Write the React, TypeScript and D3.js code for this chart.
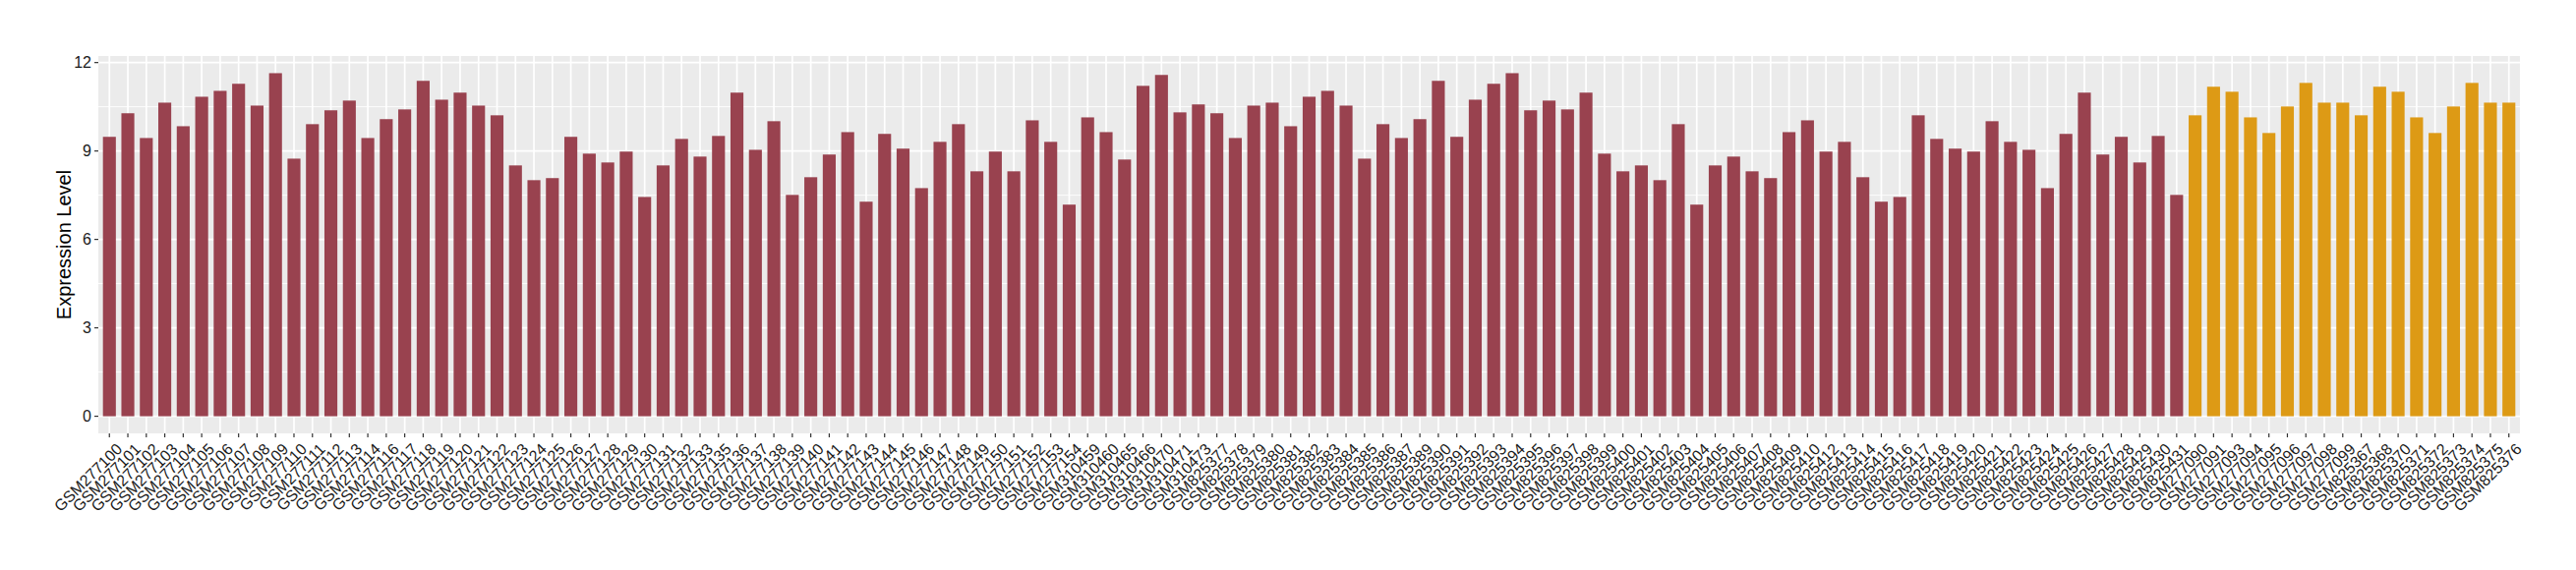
import * as d3 from "d3";

// sample ids, in plot order
const groupA = [
  "GSM277100", "GSM277101", "GSM277102", "GSM277103", "GSM277104", "GSM277105", "GSM277106", "GSM277107",
  "GSM277108", "GSM277109", "GSM277110", "GSM277111", "GSM277112", "GSM277113", "GSM277114", "GSM277116",
  "GSM277117", "GSM277118", "GSM277119", "GSM277120", "GSM277121", "GSM277122", "GSM277123", "GSM277124",
  "GSM277125", "GSM277126", "GSM277127", "GSM277128", "GSM277129", "GSM277130", "GSM277131", "GSM277132",
  "GSM277133", "GSM277135", "GSM277136", "GSM277137", "GSM277138", "GSM277139", "GSM277140", "GSM277141",
  "GSM277142", "GSM277143", "GSM277144", "GSM277145", "GSM277146", "GSM277147", "GSM277148", "GSM277149",
  "GSM277150", "GSM277151", "GSM277152", "GSM277153", "GSM277154", "GSM310459", "GSM310460", "GSM310465",
  "GSM310466", "GSM310470", "GSM310471", "GSM310473", "GSM825377", "GSM825378", "GSM825379", "GSM825380",
  "GSM825381", "GSM825382", "GSM825383", "GSM825384", "GSM825385", "GSM825386", "GSM825387", "GSM825389",
  "GSM825390", "GSM825391", "GSM825392", "GSM825393", "GSM825394", "GSM825395", "GSM825396", "GSM825397",
  "GSM825398", "GSM825399", "GSM825400", "GSM825401", "GSM825402", "GSM825403", "GSM825404", "GSM825405",
  "GSM825406", "GSM825407", "GSM825408", "GSM825409", "GSM825410", "GSM825412", "GSM825413", "GSM825414",
  "GSM825415", "GSM825416", "GSM825417", "GSM825418", "GSM825419", "GSM825420", "GSM825421", "GSM825422",
  "GSM825423", "GSM825424", "GSM825425", "GSM825426", "GSM825427", "GSM825428", "GSM825429", "GSM825430",
  "GSM825431",
];
const valuesA = [
  9.48, 10.28, 9.44, 10.64, 9.84, 10.84, 11.04, 11.28, 10.54, 11.64, 8.74, 9.91, 10.38, 10.71, 9.44, 10.08,
  10.41, 11.38, 10.74, 10.98, 10.54, 10.21, 8.51, 8.01, 8.08, 9.48, 8.91, 8.61, 8.98, 7.44, 8.51, 9.41,
  8.81, 9.51, 10.98, 9.04, 10.01, 7.51, 8.11, 8.88, 9.64, 7.28, 9.58, 9.08, 7.74, 9.31, 9.91, 8.31,
  8.98, 8.31, 10.04, 9.31, 7.18, 10.14, 9.64, 8.71, 11.21, 11.58, 10.31, 10.58, 10.28, 9.44, 10.54, 10.64,
  9.84, 10.84, 11.04, 10.54, 8.74, 9.91, 9.44, 10.08, 11.38, 9.48, 10.74, 11.28, 11.64, 10.38, 10.71, 10.41,
  10.98, 8.91, 8.31, 8.51, 8.01, 9.91, 7.18, 8.51, 8.81, 8.31, 8.08, 9.64, 10.04, 8.98, 9.31, 8.11,
  7.28, 7.44, 10.21, 9.41, 9.08, 8.98, 10.01, 9.31, 9.04, 7.74, 9.58, 10.98, 8.88, 9.48, 8.61, 9.51,
  7.51,
];
const groupB = [
  "GSM277090", "GSM277091", "GSM277093", "GSM277094", "GSM277095", "GSM277096", "GSM277097", "GSM277098",
  "GSM277099", "GSM825367", "GSM825368", "GSM825370", "GSM825371", "GSM825372", "GSM825373", "GSM825374",
  "GSM825375", "GSM825376",
];
const valuesB = [
  10.21, 11.18, 11.01, 10.14, 9.61, 10.51, 11.31, 10.64, 10.64, 10.21, 11.18, 11.01, 10.14, 9.61, 10.51, 11.31,
  10.64, 10.64,
];
const yTicks = [0, 3, 6, 9, 12];
const yMinor = [1.5, 4.5, 7.5, 10.5];
const colorA = "#99424F";
const colorB = "#DD9A15";

export default function App() {
  const width = 2620;
  const height = 580;
  const m = { left: 100, right: 57, top: 57, bottom: 139 };
  const font = "'Liberation Sans', Arial, Helvetica, sans-serif";

  const bars = [
    ...groupA.map((id, i) => ({ id, v: valuesA[i], fill: colorA })),
    ...groupB.map((id, i) => ({ id, v: valuesB[i], fill: colorB })),
  ];

  // ggplot-like discrete scale: 0.6 units padding each side
  const x = d3
    .scalePoint()
    .domain(bars.map((d) => d.id))
    .range([m.left, width - m.right])
    .padding(0.6);
  const bw = x.step() * 0.7;

  const maxV = d3.max(bars, (d) => d.v);
  const y = d3
    .scaleLinear()
    .domain([-0.05 * maxV, 1.05 * maxV])
    .range([height - m.bottom, m.top]);

  return (
    <svg
      width={width}
      height={height}
      style={{ position: "absolute", left: 0, top: 0, background: "#fff" }}
      fontFamily={font}
    >
      <rect
        x={m.left}
        y={m.top}
        width={width - m.left - m.right}
        height={height - m.top - m.bottom}
        fill="#EBEBEB"
      />
      {yMinor.map((t) => (
        <line key={"mn" + t} x1={m.left} x2={width - m.right} y1={y(t)} y2={y(t)} stroke="#fff" strokeWidth={0.9} />
      ))}
      {yTicks.map((t) => (
        <line key={"mj" + t} x1={m.left} x2={width - m.right} y1={y(t)} y2={y(t)} stroke="#fff" strokeWidth={1.7} />
      ))}
      {bars.map((d) => (
        <line
          key={"vg" + d.id}
          x1={x(d.id)}
          x2={x(d.id)}
          y1={m.top}
          y2={height - m.bottom}
          stroke="#fff"
          strokeWidth={1.7}
        />
      ))}
      {bars.map((d) => (
        <rect key={"b" + d.id} x={x(d.id) - bw / 2} y={y(d.v)} width={bw} height={y(0) - y(d.v)} fill={d.fill} />
      ))}

      {/* y axis */}
      {yTicks.map((t) => (
        <g key={"yt" + t}>
          <line x1={m.left - 4} x2={m.left} y1={y(t)} y2={y(t)} stroke="#333" strokeWidth={1.2} />
          <text x={m.left - 7} y={y(t)} dy="0.36em" textAnchor="end" fontSize={16} fill="#1a1a1a">
            {t}
          </text>
        </g>
      ))}
      <text
        transform={`translate(72, ${(m.top + height - m.bottom) / 2}) rotate(-90)`}
        textAnchor="middle"
        fontSize={20}
        fill="#000"
      >
        Expression Level
      </text>

      {/* x axis */}
      {bars.map((d) => (
        <g key={"xt" + d.id}>
          <line
            x1={x(d.id)}
            x2={x(d.id)}
            y1={height - m.bottom}
            y2={height - m.bottom + 4}
            stroke="#333"
            strokeWidth={1.2}
          />
          <text
            transform={`translate(${x(d.id) + 6}, ${height - m.bottom + 9}) rotate(-45)`}
            textAnchor="end"
            dy="0.71em"
            fontSize={16}
            fill="#1a1a1a"
          >
            {d.id}
          </text>
        </g>
      ))}
    </svg>
  );
}
